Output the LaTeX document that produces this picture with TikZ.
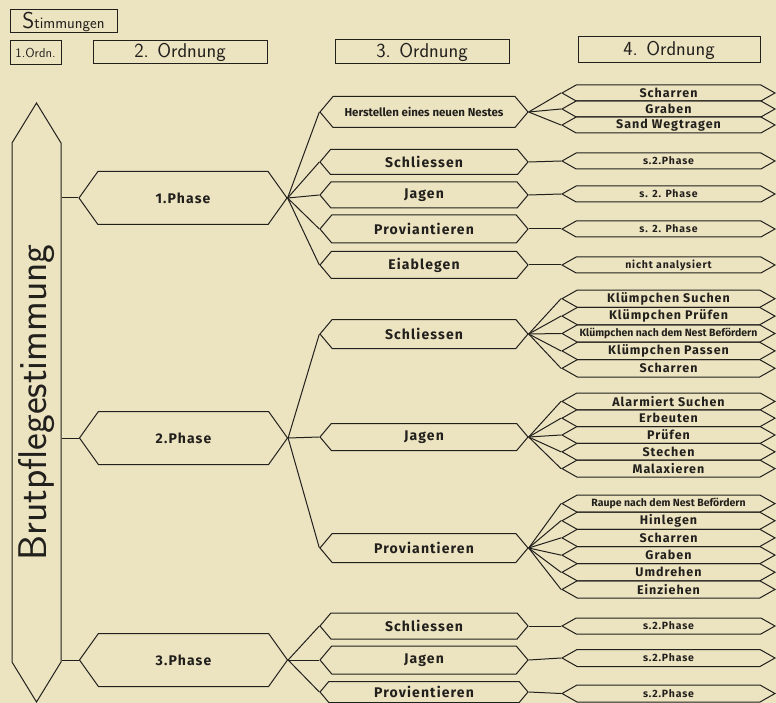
\documentclass[tikz,border=0pt]{standalone}
\usepackage{fontspec}
\setmainfont{Fira Sans}
\newfontfamily\labfont{Fira Sans}[LetterSpace=8]
\newfontfamily\tightfont{Fira Sans}[LetterSpace=0]
\usetikzlibrary{shapes.symbols, positioning}
\definecolor{paper}{RGB}{236,227,193}
\definecolor{ink}{RGB}{34,32,28}

\tikzset{
  hdr/.style={draw=ink, line width=1pt, inner sep=0pt, text=ink},
  hexa/.style={draw=ink, line width=1pt, shape=signal, signal to=east and west, inner sep=0pt, text=ink},
  phase/.style={hexa, minimum width=208pt, minimum height=53pt, signal pointer angle=109,
    font=\labfont\bfseries\fontsize{14}{14}\selectfont},
  ordthree/.style={hexa, minimum width=208pt, minimum height=28pt, signal pointer angle=100,
    font=\labfont\bfseries\fontsize{14}{14}\selectfont},
  ordfour/.style={hexa, minimum width=213pt, minimum height=16pt, signal pointer angle=59,
    font=\labfont\bfseries\fontsize{12.5}{12.5}\selectfont},
  small/.style={font=\labfont\bfseries\fontsize{10.5}{10.5}\selectfont},
  tiny/.style={font=\tightfont\bfseries\fontsize{10.5}{10.5}\selectfont},
  link/.style={draw=ink, line width=1pt},
}

\begin{document}
\begin{tikzpicture}[x=1pt, y=-1pt]
  \fill[paper] (0,0) rectangle (776,703);
  \useasboundingbox (0,0) rectangle (776,703);

  % column heads
  \node[hdr, minimum width=107pt, minimum height=23pt, font=\sffamily\fontsize{16}{16}\selectfont] (stim) at (63.5,21.5) {{\fontsize{23}{23}\selectfont S}timmungen};
  \node[hdr, minimum width=51pt, minimum height=24pt, font=\sffamily\fontsize{13}{13}\selectfont] (ordA) at (35.5,53) {1.Ordn.};
  \node[hdr, minimum width=174pt, minimum height=23pt, font=\sffamily\fontsize{20}{20}\selectfont] (ordB) at (180,52.5) {2. Ordnung};
  \node[hdr, minimum width=174pt, minimum height=24pt, font=\sffamily\fontsize{20}{20}\selectfont] (ordC) at (422,52) {3. Ordnung};
  \node[hdr, minimum width=182pt, minimum height=26pt, font=\sffamily\fontsize{20}{20}\selectfont] (ordD) at (669,50) {4. Ordnung};

  % 1. Ordnung
  \node[hexa, rotate=90, minimum width=599pt, minimum height=49pt, signal pointer angle=63, font=\sffamily\fontsize{40}{40}\selectfont] (brut) at (36.5,402.5) {Brutpflegestimmung};

  % 2. Ordnung
  \node[phase] (pA) at (183,198) {1.Phase};
  \node[phase] (pB) at (183.5,438) {2.Phase};
  \node[phase] (pC) at (183.5,660) {3.Phase};

  % 3. Ordnung
  \node[ordthree, minimum height=31pt, font=\tightfont\bfseries\fontsize{11.5}{11.5}\selectfont] (herst) at (424,112) {Herstellen eines neuen Nestes};
  \node[ordthree, minimum height=25pt] (schlA) at (424,162) {Schliessen};
  \node[ordthree, minimum height=26pt] (jagA) at (424,195) {Jagen};
  \node[ordthree] (provA) at (424,229) {Proviantieren};
  \node[ordthree, minimum height=27pt] (eiab) at (424,265) {Eiablegen};

  \node[ordthree, minimum height=29pt] (schlB) at (424,334) {Schliessen};
  \node[ordthree, minimum height=27pt] (jagB) at (424,437) {Jagen};
  \node[ordthree, minimum height=29pt] (provB) at (424,548) {Proviantieren};

  \node[ordthree, minimum height=26pt] (schlC) at (424,626) {Schliessen};
  \node[ordthree] (jagC) at (424,660) {Jagen};
  \node[ordthree, minimum height=21pt] (provC) at (424,692) {Provientieren};

  % 4. Ordnung
  \node[ordfour] (scharA) at (668.5,93) {Scharren};
  \node[ordfour] (grabA) at (668.5,109) {Graben};
  \node[ordfour] (sand) at (668.5,125) {Sand Wegtragen};
  \node[ordfour, small] (verwA) at (668.5,161) {s.2.Phase};
  \node[ordfour, small] (verwB) at (668.5,194) {s. 2. Phase};
  \node[ordfour, small] (verwC) at (668.5,229) {s. 2. Phase};
  \node[ordfour, small] (nicht) at (668.5,265) {nicht analysiert};

  \node[ordfour, minimum height=17.4pt] (ksuch) at (668.5,298.7) {Klümpchen Suchen};
  \node[ordfour, minimum height=17.4pt] (kpruef) at (668.5,316.1) {Klümpchen Prüfen};
  \node[ordfour, minimum height=17.4pt, tiny] (kbef) at (668.5,333.5) {Klümpchen nach dem Nest Befördern};
  \node[ordfour, minimum height=17.4pt] (kpass) at (668.5,350.9) {Klümpchen Passen};
  \node[ordfour, minimum height=17.4pt] (scharB) at (668.5,368.3) {Scharren};

  \node[ordfour, minimum height=16.8pt] (alarm) at (668.5,401.4) {Alarmiert Suchen};
  \node[ordfour, minimum height=16.8pt] (erbeut) at (668.5,418.2) {Erbeuten};
  \node[ordfour, minimum height=16.8pt] (pruef) at (668.5,435) {Prüfen};
  \node[ordfour, minimum height=16.8pt] (stech) at (668.5,451.8) {Stechen};
  \node[ordfour, minimum height=16.8pt] (malax) at (668.5,468.6) {Malaxieren};

  \node[ordfour, minimum height=17.2pt, tiny] (raupe) at (668.5,503.6) {Raupe nach dem Nest Befördern};
  \node[ordfour, minimum height=17.2pt] (hinleg) at (668.5,520.75) {Hinlegen};
  \node[ordfour, minimum height=17.2pt] (scharC) at (668.5,537.9) {Scharren};
  \node[ordfour, minimum height=17.2pt] (grabC) at (668.5,555.1) {Graben};
  \node[ordfour, minimum height=17.2pt] (umdreh) at (668.5,572.25) {Umdrehen};
  \node[ordfour, minimum height=17.2pt] (einzieh) at (668.5,589.4) {Einziehen};

  \node[ordfour, small] (verwD) at (668.5,626) {s.2.Phase};
  \node[ordfour, small, minimum height=17pt] (verwE) at (668.5,658) {s.2.Phase};
  \node[ordfour, small, minimum height=17pt] (verwF) at (668.5,693.5) {s.2.Phase};

  % links
  \foreach \p in {pA,pB,pC}
    \draw[link] (brut.south |- \p.west) -- (\p.west);
  \foreach \t in {herst,schlA,jagA,provA,eiab}
    \draw[link] (pA.east) -- (\t.west);
  \foreach \t in {schlB,jagB,provB}
    \draw[link] (pB.east) -- (\t.west);
  \foreach \t in {schlC,jagC,provC}
    \draw[link] (pC.east) -- (\t.west);
  \foreach \t in {scharA,grabA,sand}
    \draw[link] (herst.east) -- (\t.west);
  \draw[link] (schlA.east) -- (verwA.west);
  \draw[link] (jagA.east) -- (verwB.west);
  \draw[link] (provA.east) -- (verwC.west);
  \draw[link] (eiab.east) -- (nicht.west);
  \foreach \t in {ksuch,kpruef,kbef,kpass,scharB}
    \draw[link] (schlB.east) -- (\t.west);
  \foreach \t in {alarm,erbeut,pruef,stech,malax}
    \draw[link] (jagB.east) -- (\t.west);
  \foreach \t in {raupe,hinleg,scharC,grabC,umdreh,einzieh}
    \draw[link] (provB.east) -- (\t.west);
  \draw[link] (schlC.east) -- (verwD.west);
  \draw[link] (jagC.east) -- (verwE.west);
  \draw[link] (provC.east) -- (verwF.west);
\end{tikzpicture}
\end{document}
